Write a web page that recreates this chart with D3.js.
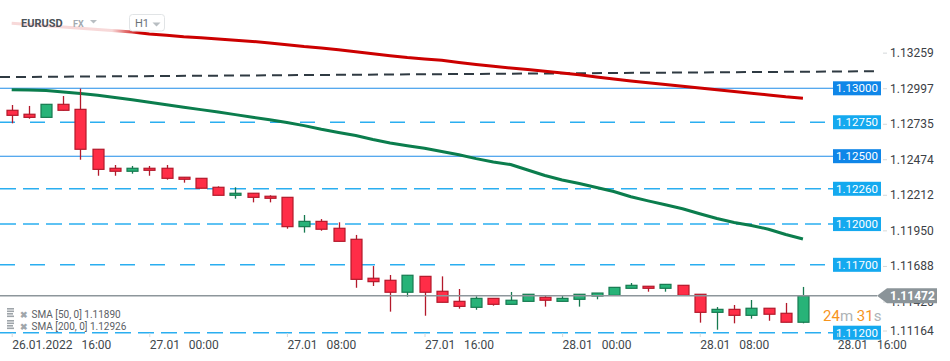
<!DOCTYPE html>
<html><head><meta charset="utf-8">
<script src="https://cdn.jsdelivr.net/npm/d3@7"></script>
<style>
body{margin:0;background:#fff;}
svg{display:block;font-family:Roboto, "Noto Sans", sans-serif;}
</style>
</head><body>
<svg id="chart" width="950" height="361"></svg>
<script>
// ---------------- data ----------------
const symbol = "EURUSD", market = "FX", timeframe = "H1";
const firstCandle = new Date(2022, 0, 26, 16, 0);   // 26.01.2022 16:00, hourly candles
const open  = [1.12838,1.12809,1.12786,1.12882,1.12845,1.12551,1.12411,1.12389,1.12411,1.12411,1.12345,1.12337,1.12271,1.12212,1.12227,1.12205,1.12197,1.11981,1.12020,1.11969,1.11888,1.11601,1.11586,1.11498,1.11615,1.11505,1.11431,1.11387,1.11453,1.11409,1.11431,1.11461,1.11431,1.11446,1.11470,1.11475,1.11527,1.11542,1.11527,1.11549,1.11483,1.11350,1.11372,1.11328,1.11380,1.11343,1.11277];
const high  = [1.12877,1.12870,1.12884,1.12943,1.12998,1.12551,1.12435,1.12428,1.12428,1.12435,1.12345,1.12337,1.12278,1.12271,1.12227,1.12212,1.12197,1.12067,1.12037,1.12013,1.11920,1.11691,1.11625,1.11623,1.11615,1.11615,1.11522,1.11468,1.11453,1.11500,1.11483,1.11470,1.11470,1.11483,1.11492,1.11534,1.11566,1.11542,1.11556,1.11549,1.11483,1.11389,1.11404,1.11441,1.11380,1.11419,1.11537];
const low   = [1.12742,1.12776,1.12784,1.12836,1.12474,1.12356,1.12356,1.12371,1.12356,1.12327,1.12305,1.12264,1.12212,1.12187,1.12160,1.12160,1.11966,1.11937,1.11951,1.11873,1.11531,1.11544,1.11355,1.11465,1.11325,1.11424,1.11377,1.11369,1.11399,1.11409,1.11431,1.11392,1.11431,1.11392,1.11446,1.11475,1.11527,1.11502,1.11502,1.11475,1.11274,1.11222,1.11269,1.11303,1.11288,1.11277,1.11269];
const close = [1.12801,1.12786,1.12882,1.12838,1.12551,1.12403,1.12389,1.12411,1.12396,1.12337,1.12330,1.12264,1.12212,1.12227,1.12197,1.12190,1.11981,1.12020,1.11962,1.11873,1.11593,1.11576,1.11498,1.11623,1.11498,1.11424,1.11394,1.11453,1.11409,1.11439,1.11483,1.11439,1.11453,1.11483,1.11492,1.11534,1.11549,1.11527,1.11556,1.11475,1.11350,1.11372,1.11328,1.11380,1.11336,1.11277,1.11472];
const sma200 = [1.13479,1.13470,1.13461,1.13451,1.13443,1.13433,1.13423,1.13414,1.13400,1.13390,1.13379,1.13372,1.13363,1.13354,1.13345,1.13334,1.13320,1.13307,1.13297,1.13284,1.13270,1.13254,1.13240,1.13226,1.13216,1.13207,1.13190,1.13175,1.13162,1.13150,1.13138,1.13126,1.13113,1.13099,1.13083,1.13069,1.13054,1.13041,1.13028,1.13015,1.13002,1.12989,1.12976,1.12964,1.12951,1.12937,1.12926];
const sma50  = [1.12990,1.12987,1.12983,1.12973,1.12962,1.12948,1.12932,1.12915,1.12898,1.12879,1.12861,1.12843,1.12825,1.12806,1.12787,1.12768,1.12748,1.12725,1.12698,1.12674,1.12652,1.12623,1.12597,1.12577,1.12559,1.12535,1.12510,1.12482,1.12457,1.12439,1.12398,1.12358,1.12325,1.12299,1.12269,1.12240,1.12201,1.12171,1.12142,1.12113,1.12076,1.12041,1.12012,1.11990,1.11962,1.11923,1.11890];
const levels = [1.13000,1.12750,1.12500,1.12260,1.12000,1.11700,1.11200];
const trendIdx = [0, 46];
const trendPrice = [1.13083, 1.13122];
const lastPrice = 1.11472;
const priceTicks = [1.11164,1.11426,1.11688,1.11950,1.12212,1.12474,1.12735,1.12997,1.13259];
const timeTicks = [new Date(2022,0,26,16),new Date(2022,0,27,0),new Date(2022,0,27,8),new Date(2022,0,27,16),new Date(2022,0,28,0),new Date(2022,0,28,8),new Date(2022,0,28,16)];
const legendItems = ["SMA [50, 0] 1.11890","SMA [200, 0] 1.12926"];
const countdown = [["24","num"],["m","unit"],[" 31","num"],["s","unit"]];

// ---------------- styles ----------------
const levelStyle = {
  1.13000:{dash:null, line:"#1f8ce8", box:"#0f86e8"},
  1.12500:{dash:null, line:"#1f8ce8", box:"#0f86e8"},
  1.12750:{dash:"15,15", line:"#2aaef0", box:"#14a9ef"},
  1.11700:{dash:"15,15", line:"#2aaef0", box:"#14a9ef"},
  1.12260:{dash:"16,7", line:"#2aaef0", box:"#14a9ef"},
  1.12000:{dash:"16,7", line:"#2aaef0", box:"#14a9ef"},
  1.11200:{dash:"16,7", line:"#2aaef0", box:"#14a9ef"}
};
const W = 950, H = 361;
const levelEnd = 833, plotEnd = 877;

// ---------------- scales ----------------
const hour = 3600e3;
const times = open.map((_, i) => new Date(+firstCandle + i * hour));
const x = d3.scaleTime()
  .domain([new Date(+firstCandle - 0.68 * hour), new Date(+firstCandle + 54.55 * hour)])
  .range([0, W]);
const y = d3.scaleLinear().domain([1.112, 1.130]).range([332.7, 88.3]);

const svg = d3.select("#chart");
svg.append("rect").attr("width", W).attr("height", H).attr("fill", "#fff");

// header fade gradient
const defs = svg.append("defs");
const grad = defs.append("linearGradient").attr("id", "fade")
  .attr("gradientUnits", "userSpaceOnUse").attr("x1", 0).attr("x2", 140).attr("y1", 0).attr("y2", 0);
grad.append("stop").attr("offset", 0).attr("stop-color", "#fff").attr("stop-opacity", 0.85);
grad.append("stop").attr("offset", 0.8).attr("stop-color", "#fff").attr("stop-opacity", 0.85);
grad.append("stop").attr("offset", 1).attr("stop-color", "#fff").attr("stop-opacity", 0);

// ---------------- level lines ----------------
const lv = svg.append("g");
levels.forEach(p => {
  const s = levelStyle[p.toFixed(5)] || levelStyle[p];
  lv.append("line").attr("x1", 0).attr("x2", levelEnd)
    .attr("y1", y(p)).attr("y2", y(p))
    .attr("stroke", s.line).attr("stroke-width", s.dash ? 1.5 : 1.1)
    .attr("stroke-dasharray", s.dash);
});

// trend line
const tSlope = (trendPrice[1] - trendPrice[0]) / (+times[trendIdx[1]] - +times[trendIdx[0]]);
const trendAt = t => trendPrice[0] + tSlope * (+t - +times[trendIdx[0]]);
const tA = x.invert(0), tB = x.invert(plotEnd);
svg.append("line")
  .attr("x1", x(tA)).attr("y1", y(trendAt(tA)))
  .attr("x2", x(tB)).attr("y2", y(trendAt(tB)))
  .attr("stroke", "#2f3a42").attr("stroke-width", 2).attr("stroke-dasharray", "10,6");

// SMA lines
const line = d3.line().x((d, i) => x(times[i])).y(d => y(d));
svg.append("path").datum(sma200).attr("d", line).attr("fill", "none")
  .attr("stroke", "#cc0000").attr("stroke-width", 3).attr("stroke-linejoin", "round");
svg.append("path").datum(sma50).attr("d", line).attr("fill", "none")
  .attr("stroke", "#0b7d4d").attr("stroke-width", 3).attr("stroke-linejoin", "round");

// header overlay
svg.append("rect").attr("x", 0).attr("y", 8).attr("width", 140).attr("height", 32).attr("fill", "url(#fade)");

// candles
const cg = svg.append("g");
open.forEach((o, i) => {
  const c = close[i], up = c > o;
  const cx = Math.round(x(times[i])) + 0.5;
  const edge = up ? "#167a50" : "#b3192b";
  const fill = up ? "#27b378" : "#ff2d47";
  cg.append("line").attr("x1", cx).attr("x2", cx)
    .attr("y1", y(high[i])).attr("y2", y(low[i]))
    .attr("stroke", edge).attr("stroke-width", 1.3);
  const top = y(Math.max(o, c)), bot = y(Math.min(o, c));
  cg.append("rect").attr("x", cx - 5.5).attr("width", 11)
    .attr("y", top).attr("height", Math.max(1, bot - top))
    .attr("fill", fill).attr("stroke", edge).attr("stroke-width", 1.2);
});

// current price line
svg.append("line").attr("x1", 0).attr("x2", plotEnd)
  .attr("y1", y(lastPrice)).attr("y2", y(lastPrice))
  .attr("stroke", "#8d969b").attr("stroke-width", 1.5);

// level boxes
levels.forEach(p => {
  const s = levelStyle[p.toFixed(5)] || levelStyle[p];
  svg.append("rect").attr("x", levelEnd).attr("y", y(p) - 7).attr("width", 48).attr("height", 14)
    .attr("fill", s.box);
  svg.append("text").attr("x", levelEnd + 24).attr("y", y(p)).attr("dy", "0.36em")
    .attr("text-anchor", "middle").attr("fill", "#fff").attr("font-size", 11.5)
    .text(p.toFixed(5));
});

// right axis
const ya = svg.append("g").attr("transform", `translate(883,0)`)
  .call(d3.axisRight(y).tickValues(priceTicks).tickSize(4).tickPadding(3).tickFormat(d3.format(".5f")));
ya.select(".domain").remove();
ya.selectAll(".tick").attr("transform", d => `translate(0,${Math.min(y(d), 331)})`);
ya.selectAll(".tick line").attr("stroke", "#d5d8da");
ya.selectAll(".tick text").attr("fill", "#3b4045").attr("font-size", 12).attr("font-family", "Roboto, sans-serif");

// bottom axis
const fmtFirst = d3.timeFormat("%d.%m.%Y"), fmtDay = d3.timeFormat("%d.%m"), fmtHM = d3.timeFormat("%H:%M");
const xa = svg.append("g").attr("transform", "translate(0,333)")
  .call(d3.axisBottom(x).tickValues(timeTicks).tickSize(4).tickPadding(3)
    .tickFormat((d, i) => (i === 0 ? fmtFirst(d) : fmtDay(d)) + "\u00a0\u00a0\u00a0" + fmtHM(d)));
xa.select(".domain").remove();
xa.selectAll(".tick line").attr("stroke", "#d5d8da");
xa.selectAll(".tick text").attr("text-anchor", "start").attr("fill", "#41474c")
  .attr("font-size", 12).attr("font-family", "Roboto, sans-serif");

// current price label
const py = y(lastPrice);
svg.append("path")
  .attr("d", `M${plotEnd},${py} L${plotEnd + 10},${py - 7.5} L937,${py - 7.5} L937,${py + 7.5} L${plotEnd + 10},${py + 7.5} Z`)
  .attr("fill", "#8b9499");
svg.append("text").attr("x", 890).attr("y", py).attr("dy", "0.36em")
  .attr("fill", "#fff").attr("font-size", 12).attr("font-weight", "bold").text(lastPrice.toFixed(5));

// countdown
const cd = svg.append("text").attr("x", 823).attr("y", 321).attr("font-size", 15);
countdown.forEach(([t, k]) => cd.append("tspan").attr("fill", k === "num" ? "#f7941d" : "#aeb3b6")
  .style("white-space", "pre").text(t));

// header
svg.append("text").attr("x", 21).attr("y", 27.3).attr("font-size", 11).attr("font-weight", "bold")
  .attr("fill", "#4b5259").text(symbol);
svg.append("text").attr("x", 73).attr("y", 27).attr("font-size", 9).attr("font-weight", "bold")
  .attr("fill", "#a3aab0").text(market);
svg.append("path").attr("d", "M90,20 L97,20 L93.5,23.5 Z").attr("fill", "#b8bec2");
svg.append("rect").attr("x", 129.5).attr("y", 14.5).attr("width", 35).attr("height", 16.5).attr("rx", 3)
  .attr("fill", "#fff").attr("stroke", "#e1e4e6");
svg.append("text").attr("x", 135).attr("y", 27).attr("font-size", 11).attr("fill", "#6b7277").text(timeframe);
svg.append("path").attr("d", "M152.5,22.5 L160.5,22.5 L156.5,26.5 Z").attr("fill", "#b8bec2");

// legend
legendItems.forEach((t, i) => {
  const ly = 318 + i * 12;
  const g = svg.append("g");
  [0, 2.5, 5].forEach(dy => g.append("rect").attr("x", 7).attr("y", ly - 10 + dy).attr("width", dy === 5 ? 6 : 7)
    .attr("height", 1.6).attr("fill", "#9ea4a9"));
  g.append("rect").attr("x", 7).attr("y", ly - 2.5).attr("width", 7).attr("height", 1.6).attr("fill", "#9ea4a9");
  g.append("text").attr("x", 19.5).attr("y", ly - 0.5).attr("font-size", 9).attr("font-weight", "bold")
    .attr("fill", "#a0a6ab").text("\u2716");
  g.append("text").attr("x", 31.5).attr("y", ly).attr("font-size", 10).attr("fill", "#5b6065")
    .style("white-space", "pre").text(t);
});
</script>
</body></html>
